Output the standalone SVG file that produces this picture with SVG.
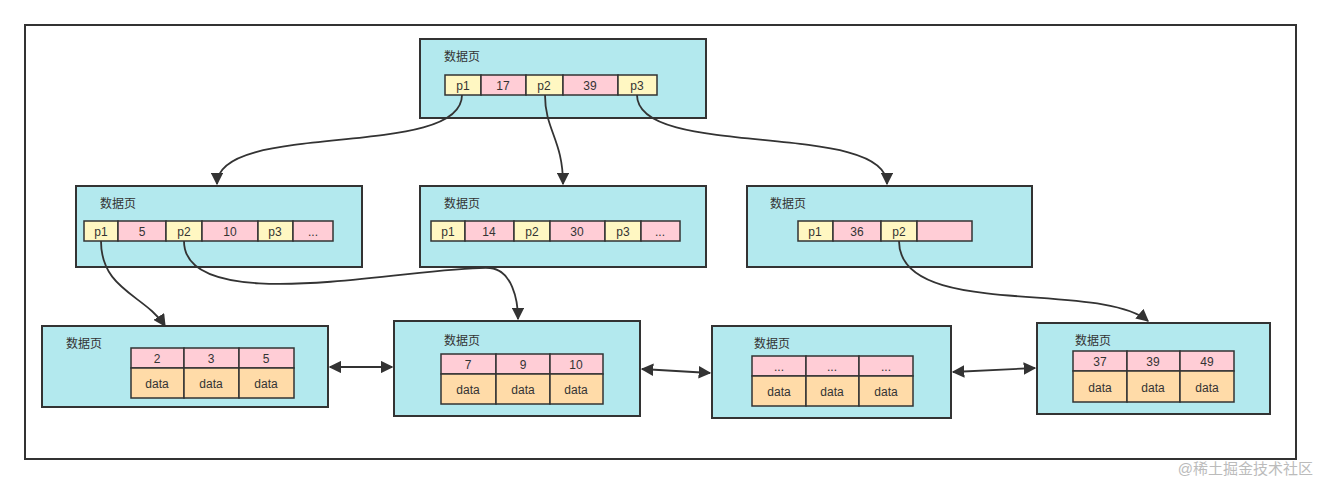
<svg xmlns="http://www.w3.org/2000/svg" width="1321" height="484" viewBox="0 0 1321 484">
<style>
.pg{fill:#b3e9ee;stroke:#333;stroke-width:2}
.y{fill:#fff7c2;stroke:#333;stroke-width:1.5}
.k{fill:#ffcdd6;stroke:#333;stroke-width:1.5}
.d{fill:#ffdba8;stroke:#333;stroke-width:1.5}
text{font-family:"Liberation Sans","Noto Sans CJK SC",sans-serif;font-size:12px;fill:#333}
.c{text-anchor:middle}
.e{fill:none;stroke:#333;stroke-width:1.8}
</style>
<defs><marker id="a" viewBox="0 0 10 10" refX="9" refY="5" markerWidth="7" markerHeight="7" orient="auto-start-reverse"><path d="M0,0L10,5L0,10z" fill="#333"/></marker></defs>
<rect width="1321" height="484" fill="#fff"/>
<rect x="25" y="25" width="1271" height="434" fill="none" stroke="#333" stroke-width="2"/>
<g id="root"><rect class="pg" x="420" y="39" width="286" height="79"/><text x="444" y="61">数据页</text>
<rect class="y" x="445" y="75" width="36" height="20"/><rect class="k" x="481" y="75" width="45" height="20"/><rect class="y" x="526" y="75" width="37" height="20"/><rect class="k" x="563" y="75" width="55" height="20"/><rect class="y" x="618" y="75" width="39" height="20"/>
<text class="c" x="463" y="90">p1</text><text class="c" x="503" y="90">17</text><text class="c" x="544" y="90">p2</text><text class="c" x="590" y="90">39</text><text class="c" x="637" y="90">p3</text></g>
<g id="n2a"><rect class="pg" x="76" y="186" width="286" height="81"/><text x="100" y="208">数据页</text>
<rect class="y" x="84" y="221" width="34" height="20"/><rect class="k" x="118" y="221" width="48" height="20"/><rect class="y" x="166" y="221" width="36" height="20"/><rect class="k" x="202" y="221" width="56" height="20"/><rect class="y" x="258" y="221" width="35" height="20"/><rect class="k" x="293" y="221" width="40" height="20"/>
<text class="c" x="101" y="236">p1</text><text class="c" x="142" y="236">5</text><text class="c" x="184" y="236">p2</text><text class="c" x="230" y="236">10</text><text class="c" x="275" y="236">p3</text><text class="c" x="313" y="236">...</text></g>
<g id="n2b"><rect class="pg" x="420" y="186" width="286" height="81"/><text x="444" y="208">数据页</text>
<rect class="y" x="431" y="221" width="34" height="20"/><rect class="k" x="465" y="221" width="49" height="20"/><rect class="y" x="514" y="221" width="36" height="20"/><rect class="k" x="550" y="221" width="55" height="20"/><rect class="y" x="605" y="221" width="36" height="20"/><rect class="k" x="641" y="221" width="39" height="20"/>
<text class="c" x="448" y="236">p1</text><text class="c" x="489" y="236">14</text><text class="c" x="532" y="236">p2</text><text class="c" x="577" y="236">30</text><text class="c" x="623" y="236">p3</text><text class="c" x="660" y="236">...</text></g>
<g id="n2c"><rect class="pg" x="747" y="186" width="285" height="81"/><text x="770" y="208">数据页</text>
<rect class="y" x="798" y="221" width="35" height="20"/><rect class="k" x="833" y="221" width="48" height="20"/><rect class="y" x="881" y="221" width="36" height="20"/><rect class="k" x="917" y="221" width="55" height="20"/>
<text class="c" x="815" y="236">p1</text><text class="c" x="857" y="236">36</text><text class="c" x="899" y="236">p2</text></g>
<g id="l1"><rect class="pg" x="42" y="326" width="286" height="81"/><text x="66" y="348">数据页</text>
<rect class="k" x="131" y="348" width="53" height="20"/><rect class="k" x="184" y="348" width="55" height="20"/><rect class="k" x="239" y="348" width="55" height="20"/>
<rect class="d" x="131" y="368" width="53" height="30"/><rect class="d" x="184" y="368" width="55" height="30"/><rect class="d" x="239" y="368" width="55" height="30"/>
<text class="c" x="157" y="363">2</text><text class="c" x="211" y="363">3</text><text class="c" x="266" y="363">5</text>
<text class="c" x="157" y="388">data</text><text class="c" x="211" y="388">data</text><text class="c" x="266" y="388">data</text></g>
<g id="l2"><rect class="pg" x="394" y="321" width="246" height="95"/><text x="444" y="345">数据页</text>
<rect class="k" x="441" y="354" width="55" height="20"/><rect class="k" x="496" y="354" width="54" height="20"/><rect class="k" x="550" y="354" width="53" height="20"/>
<rect class="d" x="441" y="374" width="55" height="30"/><rect class="d" x="496" y="374" width="54" height="30"/><rect class="d" x="550" y="374" width="53" height="30"/>
<text class="c" x="468" y="369">7</text><text class="c" x="523" y="369">9</text><text class="c" x="576" y="369">10</text>
<text class="c" x="468" y="394">data</text><text class="c" x="523" y="394">data</text><text class="c" x="576" y="394">data</text></g>
<g id="l3"><rect class="pg" x="712" y="326" width="239" height="92"/><text x="754" y="348">数据页</text>
<rect class="k" x="752" y="356" width="54" height="20"/><rect class="k" x="806" y="356" width="53" height="20"/><rect class="k" x="859" y="356" width="54" height="20"/>
<rect class="d" x="752" y="376" width="54" height="30"/><rect class="d" x="806" y="376" width="53" height="30"/><rect class="d" x="859" y="376" width="54" height="30"/>
<text class="c" x="779" y="371">...</text><text class="c" x="832" y="371">...</text><text class="c" x="886" y="371">...</text>
<text class="c" x="779" y="396">data</text><text class="c" x="832" y="396">data</text><text class="c" x="886" y="396">data</text></g>
<g id="l4"><rect class="pg" x="1037" y="323" width="233" height="91"/><text x="1075" y="345">数据页</text>
<rect class="k" x="1073" y="351" width="54" height="20"/><rect class="k" x="1127" y="351" width="53" height="20"/><rect class="k" x="1180" y="351" width="54" height="20"/>
<rect class="d" x="1073" y="371" width="54" height="31"/><rect class="d" x="1127" y="371" width="53" height="31"/><rect class="d" x="1180" y="371" width="54" height="31"/>
<text class="c" x="1100" y="366">37</text><text class="c" x="1153" y="366">39</text><text class="c" x="1207" y="366">49</text>
<text class="c" x="1100" y="392">data</text><text class="c" x="1153" y="392">data</text><text class="c" x="1207" y="392">data</text></g>
<g id="edges">
<path class="e" marker-end="url(#a)" d="M462,95 C462,160 217,120 217,184"/>
<path class="e" marker-end="url(#a)" d="M545,95 C545,130 563,140 563,184"/>
<path class="e" marker-end="url(#a)" d="M637,95 C637,160 887,120 887,184"/>
<path class="e" marker-end="url(#a)" d="M101,241 C101,290 145,295 165,326"/>
<path class="e" marker-end="url(#a)" d="M184,241 C184,320 420,265 490,268 C512,270 518,300 518,319"/>
<path class="e" marker-end="url(#a)" d="M899,241 C899,320 1100,280 1148,321"/>
<path class="e" marker-start="url(#a)" marker-end="url(#a)" d="M330,367 L392,367"/>
<path class="e" marker-start="url(#a)" marker-end="url(#a)" d="M642,369 L710,373"/>
<path class="e" marker-start="url(#a)" marker-end="url(#a)" d="M953,372 L1035,368"/>
</g>
<text x="1313" y="474" text-anchor="end" style="font-size:15px;fill:#bbb">@稀土掘金技术社区</text>
</svg>
